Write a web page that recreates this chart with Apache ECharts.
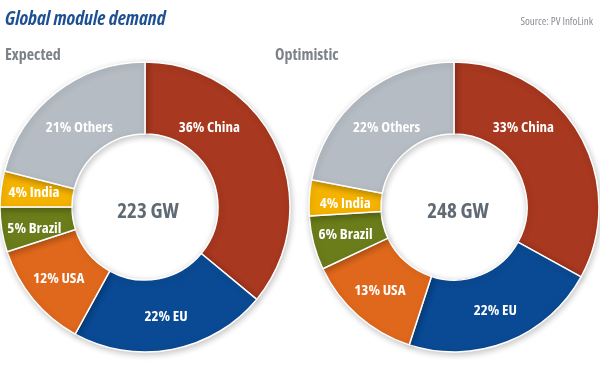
<!DOCTYPE html>
<html>
<head>
<meta charset="utf-8">
<script src="https://cdn.jsdelivr.net/npm/echarts@6/dist/echarts.min.js"></script>
<style>
html,body{margin:0;padding:0;background:#fff;}
#chart{width:600px;height:381px;}
</style>
</head>
<body>
<div id="chart"></div>
<script>
// ---- data ----
var categories = ['China', 'EU', 'USA', 'Brazil', 'India', 'Others'];
var expectedShare = [36, 22, 12, 5, 4, 21];
var optimisticShare = [33, 22, 13, 6, 4, 22];
var expectedTotal = '223 GW';
var optimisticTotal = '248 GW';
var scenarioNames = ['Expected', 'Optimistic'];

// ---- styles ----
var colors = ['#a8381f', '#0a4a94', '#e0681c', '#6b7d1a', '#f5b300', '#b5bcc3'];
var FONT = '"Open Sans", "Liberation Sans", Arial, sans-serif';
var STRETCH = 'condensed';
var RADIUS = [73, 145];

function buildData(values, shifts) {
  return categories.map(function (c, i) {
    var item = { name: c, value: values[i], itemStyle: { color: colors[i] } };
    if (shifts[i]) item.label = { offset: shifts[i] };
    return item;
  });
}

function pieSeries(values, center, shifts) {
  return {
    type: 'pie',
    radius: RADIUS,
    center: center,
    startAngle: 90,
    clockwise: true,
    silent: true,
    animation: false,
    itemStyle: {
      borderColor: '#ffffff',
      borderWidth: 1.5,
      shadowBlur: 6,
      shadowOffsetX: 1,
      shadowOffsetY: 2,
      shadowColor: 'rgba(0,0,0,0.22)'
    },
    label: {
      show: true,
      position: 'inside',
      color: '#ffffff',
      fontFamily: FONT,
      fontStyle: STRETCH,
      fontWeight: 'bold',
      fontSize: 15,
      formatter: function (p) { return p.value + '% ' + p.name; }
    },
    labelLine: { show: false },
    data: buildData(values, shifts)
  };
}

var chart = echarts.init(document.getElementById('chart'), null, { renderer: 'canvas' });
chart.setOption({
  backgroundColor: '#ffffff',
  title: [
    { text: 'Global module demand', left: 0, top: 4,
      textStyle: { fontFamily: FONT, fontSize: 19.5, fontWeight: 'bold', fontStyle: 'italic condensed', color: '#1d4f95' } },
    { text: 'Source: PV InfoLink', right: 2, top: 11,
      textStyle: { fontFamily: FONT, fontStyle: STRETCH, fontSize: 11, fontWeight: 'normal', color: '#8a8f95' } },
    { text: scenarioNames[0], left: 0, top: 42,
      textStyle: { fontFamily: FONT, fontStyle: STRETCH, fontSize: 16, fontWeight: 'bold', color: '#7b8289' } },
    { text: scenarioNames[1], left: 270, top: 42,
      textStyle: { fontFamily: FONT, fontStyle: STRETCH, fontSize: 16, fontWeight: 'bold', color: '#7b8289' } },
    { text: expectedTotal, left: 143, top: 207, textAlign: 'center', textVerticalAlign: 'middle',
      textStyle: { fontFamily: FONT, fontStyle: STRETCH, fontSize: 21, fontWeight: 'bold', color: '#5f6a74' } },
    { text: optimisticTotal, left: 453, top: 207, textAlign: 'center', textVerticalAlign: 'middle',
      textStyle: { fontFamily: FONT, fontStyle: STRETCH, fontSize: 21, fontWeight: 'bold', color: '#5f6a74' } }
  ],
  series: [
    pieSeries(expectedShare, [145, 207], { 0: [-37, -32], 3: [0, 4], 5: [3, 9] }),
    pieSeries(optimisticShare, [454, 207], { 0: [-27, -22], 4: [3, 4], 5: [4, 7] })
  ]
});
</script>
</body>
</html>
